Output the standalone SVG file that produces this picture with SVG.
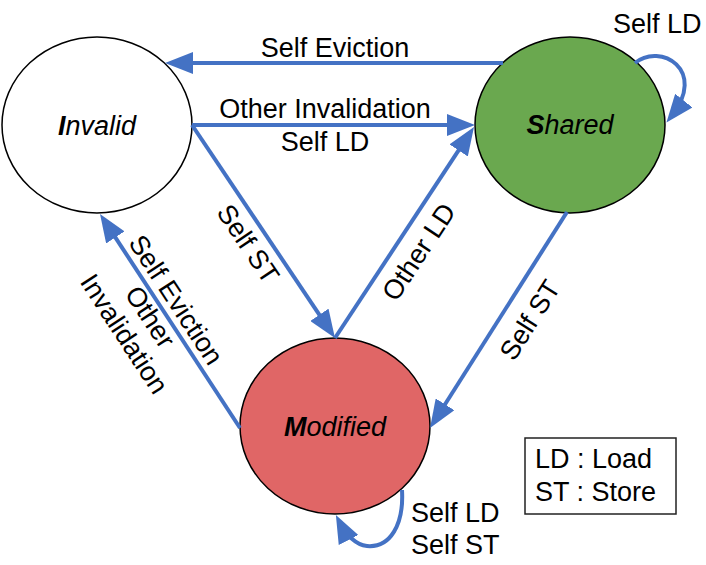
<svg xmlns="http://www.w3.org/2000/svg" width="706" height="565" viewBox="0 0 706 565">
<style>
.node{stroke:#000;stroke-width:1.5}
.conn{fill:none;stroke:#4472C4;stroke-width:4}
text{font-family:"Liberation Sans",Arial,sans-serif;font-size:27px;fill:#000}
.nl{font-style:italic}
.b{font-weight:bold}
.lab{text-anchor:middle}
</style>
<defs>
<marker id="ah" markerUnits="userSpaceOnUse" markerWidth="28" markerHeight="22" viewBox="0 0 28 22" refX="20" refY="11" orient="auto">
<path d="M0,0 L28,11 L0,22 Z" fill="#4472C4"/>
</marker>
</defs>
<rect width="706" height="565" fill="#fff"/>
<g id="node-invalid">
<ellipse class="node" cx="97" cy="125" rx="95" ry="88" fill="#fff"/>
<text class="nl lab" x="97" y="135"><tspan class="b">I</tspan>nvalid</text>
</g>
<g id="node-shared">
<ellipse class="node" cx="570" cy="125" rx="95" ry="88" fill="#6AA84F"/>
<text class="nl lab" x="570" y="134"><tspan class="b">S</tspan>hared</text>
</g>
<g id="node-modified">
<ellipse class="node" cx="335" cy="426" rx="95" ry="88" fill="#E06666"/>
<text class="nl lab" x="335" y="436"><tspan class="b">M</tspan>odified</text>
</g>
<g id="connectors">
<path class="conn" d="M503,63 L173,63" marker-end="url(#ah)"/>
<path class="conn" d="M192,125 L467,125" marker-end="url(#ah)"/>
<path class="conn" d="M192,125 L330.5,331.4" marker-end="url(#ah)"/>
<path class="conn" d="M335,338 L469.6,133.7" marker-end="url(#ah)"/>
<path class="conn" d="M240,428 L104.4,220.7" marker-end="url(#ah)"/>
<path class="conn" d="M567,212 L434.3,421.2" marker-end="url(#ah)"/>
<path class="conn" d="M635,63 C660,42 708,70 671.4,116.3" marker-end="url(#ah)"/>
<path class="conn" d="M402,490 C404,525 390,548 367,546 C356,545 346,535 339.5,522.2" marker-end="url(#ah)"/>
</g>
<g id="labels">
<text class="lab" x="335" y="57">Self Eviction</text>
<text class="lab" x="325" y="118">Other Invalidation</text>
<text class="lab" x="325" y="151">Self LD</text>
<text x="613" y="33">Self LD</text>
<text class="lab" transform="translate(248,244) rotate(56.1)" y="9">Self ST</text>
<text class="lab" transform="translate(419,252) rotate(-56.6)" y="9">Other LD</text>
<text class="lab" transform="translate(530,320) rotate(-57.6)" y="9">Self ST</text>
<text class="lab" transform="translate(150,317) rotate(56.8)"><tspan x="0" y="-22">Self Eviction</tspan><tspan x="0" y="9">Other</tspan><tspan x="0" y="40">Invalidation</tspan></text>
<text x="411" y="522">Self LD</text>
<text x="411" y="554">Self ST</text>
</g>
<g id="legend">
<rect x="525" y="438" width="151" height="76" fill="#fff" stroke="#222" stroke-width="1.5"/>
<text x="535" y="468">LD : Load</text>
<text x="535" y="501">ST : Store</text>
</g>
</svg>
